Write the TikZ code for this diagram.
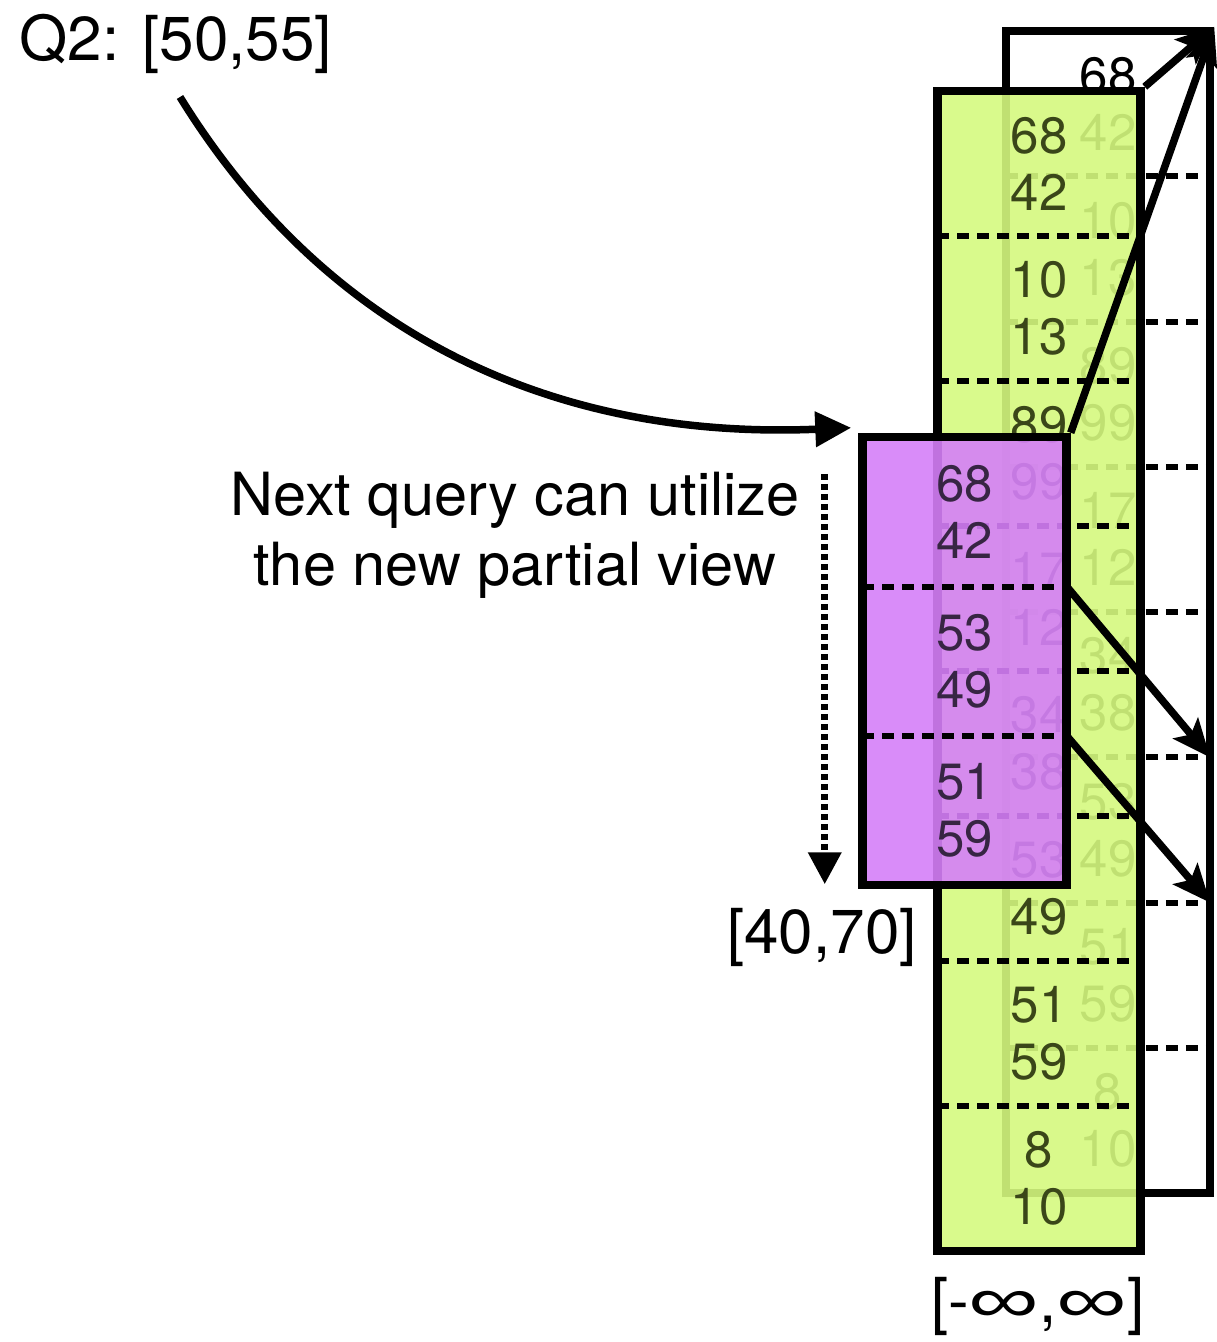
\documentclass[tikz,border=0pt]{standalone}
\usepackage{fontspec}
\setmainfont{TeX Gyre Heros}
\newfontfamily\symfont{Liberation Sans}
\usepackage{graphicx}
\usepackage{xcolor}
\usetikzlibrary{arrows.meta,positioning}
\definecolor{viewgreen}{HTML}{D5F97F}
\definecolor{viewpurple}{HTML}{D57FF8}
\definecolor{greentext}{HTML}{3A4619}
\definecolor{purpletext}{HTML}{372543}
\newcommand{\wideinf}{{\symfont\scalebox{1.6}[1.05]{∞}}}

\begin{document}
\begin{tikzpicture}[x=1pt, y=-1pt,
    box/.style={rectangle, draw=black, line width=8.5pt, inner sep=0pt},
    cell/.style={rectangle, inner sep=0pt, align=center, font=\fontsize{51}{57}\selectfont},
    sep/.style={line width=6pt, dash pattern=on 12pt off 8pt},
    ptr/.style={line width=7.5pt, -{Stealth[length=38pt, width=32pt, inset=8pt]}},
    label/.style={font=\fontsize{62}{70}\selectfont}
]
    \useasboundingbox (0,0) rectangle (1217,1342);

    % full view (back)
    \node[box, fill=white, minimum width=204pt, minimum height=1162pt] (full) at (1108,612) {};
    \foreach \t [count=\i] in {{68\\42},{10\\13},{89\\99},{17\\12},{34\\38},{53\\49},{51\\59},{8\\10}}
        \node[cell, minimum width=204pt, minimum height=145.25pt] (f\i) at (1108,{31+145.25*(\i-0.5)}) {\t};
    \foreach \i in {1,...,7}
        \draw[sep] (f\i.south west) -- (f\i.south east);

    % partial view [-inf,inf]
    \node[box, fill=viewgreen, fill opacity=0.9, minimum width=203pt, minimum height=1160pt] (part) at (1039,671) {};
    \foreach \t [count=\i] in {{68\\42},{10\\13},{89\\99},{17\\12},{34\\38},{53\\49},{51\\59},{8\\10}}
        \node[cell, text=greentext, minimum width=203pt, minimum height=145pt] (g\i) at (1039,{91+145*(\i-0.5)}) {\t};
    \foreach \i in {1,...,7}
        \draw[sep] (g\i.south west) -- (g\i.south east);

    % new partial view [40,70]
    \node[box, fill=viewpurple, fill opacity=0.9, minimum width=204pt, minimum height=448pt] (pv) at (964.5,661) {};
    \foreach \t [count=\i] in {{68\\42},{53\\49},{51\\59}}
        \node[cell, text=purpletext, minimum width=204pt, minimum height=149.33pt] (p\i) at (964.5,{437+149.33*(\i-0.5)}) {\t};
    \foreach \i in {1,2}
        \draw[sep] (p\i.south west) -- (p\i.south east);

    % pointers
    \draw[ptr] (part.north east) -- (full.north east);
    \draw[ptr] (pv.north east) -- (full.north east);
    \draw[ptr] (p1.south east) -- (f5.south east);
    \draw[ptr] (p2.south east) -- (f6.south east);

    % labels
    \node[label, anchor=base west] (q) at (16,60) {Q2: [50,55]};
    \node[font=\fontsize{59.5}{70}\selectfont, align=center] (note) at (515,535) {Next query can utilize\\the new partial view};
    \node[label, anchor=base] (lo) at (822,953) {[40,70]};
    \node[label, anchor=base] (all) at (1038,1322) {[-\wideinf,\wideinf]};

    % query arrow
    \coordinate (qs) at (180,97);
    \draw[line width=7.5pt, -{Triangle[length=36pt, width=34pt]}] (qs) .. controls (330,340) and (560,440) .. ([xshift=-7pt, yshift=5pt]pv.north west);
    \draw[line width=7pt, dash pattern=on 6pt off 4pt, -{Triangle[length=32pt, width=32pt]}]
        ([xshift=-33.5pt, yshift=-41pt]pv.north west) -- ([xshift=-33.5pt, yshift=5pt]pv.south west);
\end{tikzpicture}
\end{document}
